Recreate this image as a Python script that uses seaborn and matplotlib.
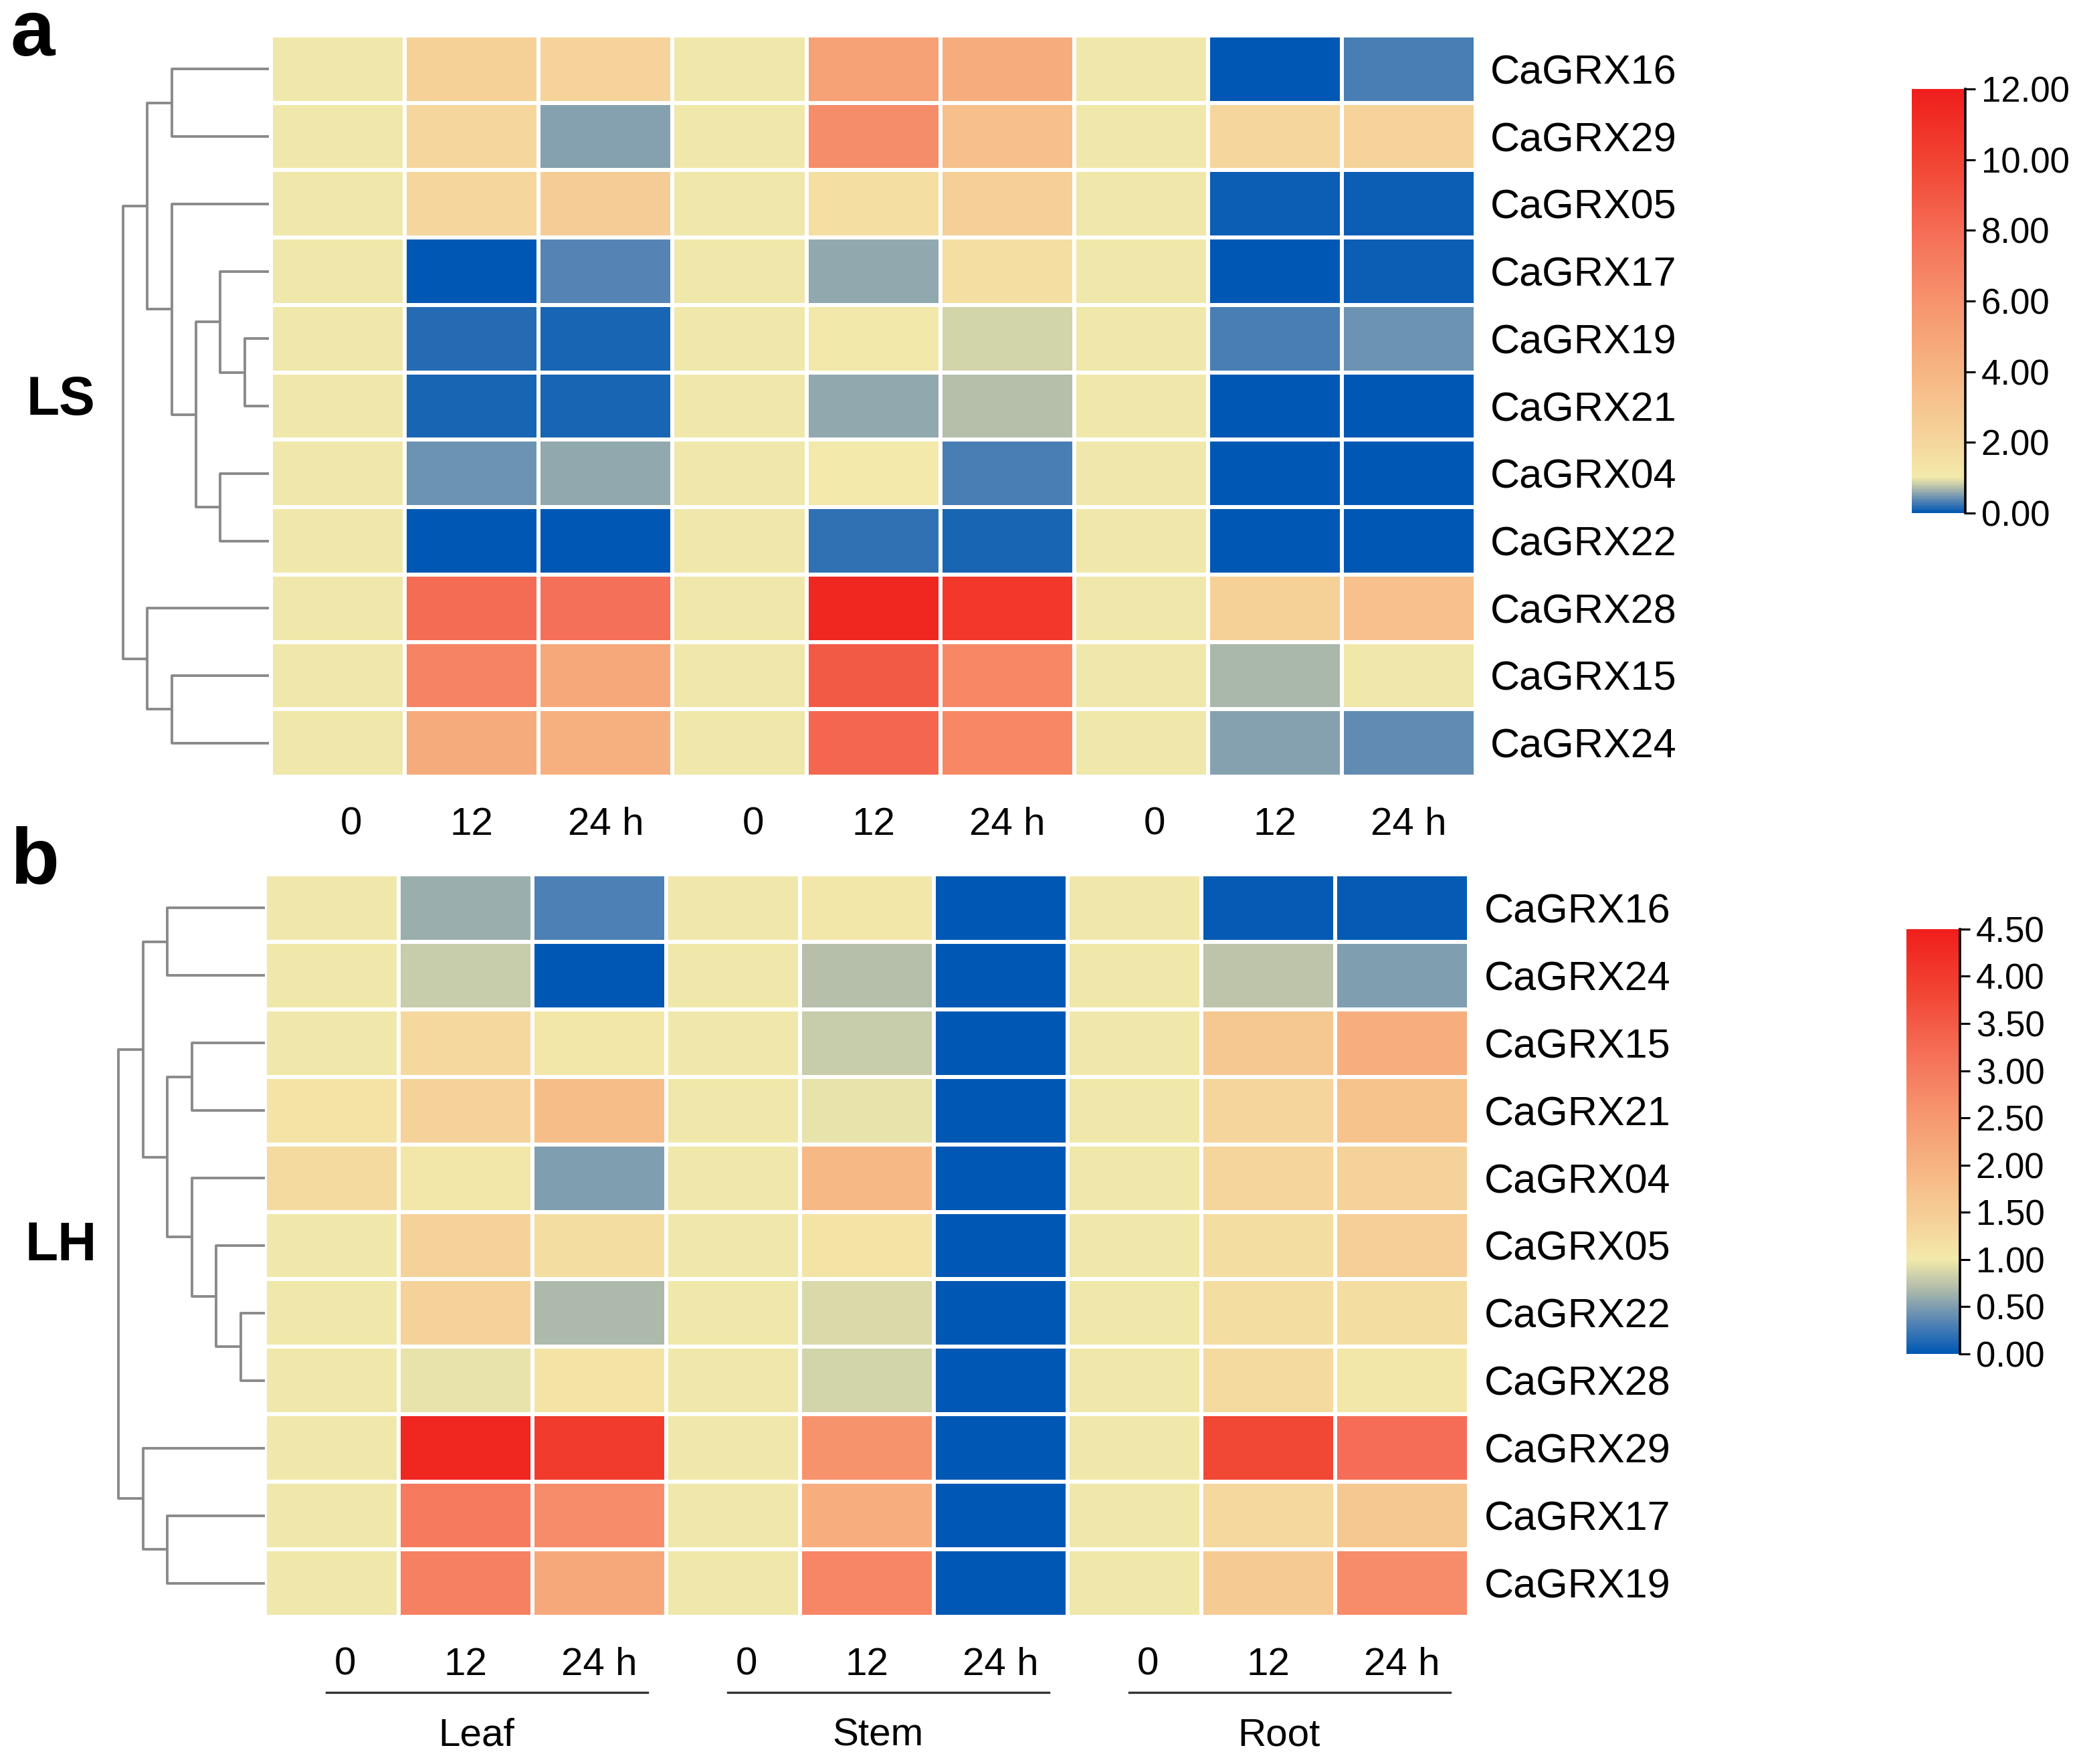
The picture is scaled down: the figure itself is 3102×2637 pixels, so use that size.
import numpy as np
import pandas as pd
import seaborn as sns
from matplotlib import pyplot as plt
from matplotlib.colors import LinearSegmentedColormap

# %% data

time_labels = ['0', '12', '24 h'] * 3
tissues = ['Leaf', 'Stem', 'Root']

genes_ls = ['CaGRX16', 'CaGRX29', 'CaGRX05', 'CaGRX17', 'CaGRX19', 'CaGRX21',
            'CaGRX04', 'CaGRX22', 'CaGRX28', 'CaGRX15', 'CaGRX24']
ls_vals = [
    [1, 2.3, 2.2, 1, 5.2, 4.5, 1, 0.00, 0.30],
    [1, 2.0, 0.55, 1, 6.3, 3.4, 1, 2.0, 2.2],
    [1, 2.0, 2.6, 1, 1.6, 2.4, 1, 0.08, 0.08],
    [1, 0.02, 0.35, 1, 0.60, 1.6, 1, 0.00, 0.05],
    [1, 0.15, 0.13, 1, 1.1, 0.85, 1, 0.30, 0.45],
    [1, 0.10, 0.10, 1, 0.60, 0.72, 1, 0.00, 0.00],
    [1, 0.45, 0.60, 1, 1.05, 0.30, 1, 0.00, 0.00],
    [1, 0.00, 0.00, 1, 0.20, 0.12, 1, 0.00, 0.00],
    [1, 8.0, 7.8, 1, 11.5, 10.6, 1, 2.3, 3.3],
    [1, 6.8, 4.8, 1, 8.9, 6.6, 1, 0.70, 1.0],
    [1, 4.6, 4.4, 1, 8.3, 6.6, 1, 0.55, 0.42],
]

genes_lh = ['CaGRX16', 'CaGRX24', 'CaGRX15', 'CaGRX21', 'CaGRX04', 'CaGRX05',
            'CaGRX22', 'CaGRX28', 'CaGRX29', 'CaGRX17', 'CaGRX19']
lh_vals = [
    [1, 0.60, 0.30, 1, 1.05, 0, 1, 0.02, 0.02],
    [1, 0.80, 0.00, 1, 0.72, 0, 1, 0.75, 0.50],
    [1, 1.30, 1.05, 1, 0.80, 0, 1, 1.60, 2.10],
    [1.1, 1.40, 1.80, 1, 0.95, 0, 1, 1.35, 1.70],
    [1.25, 1.05, 0.50, 1, 1.90, 0, 1, 1.35, 1.40],
    [1, 1.40, 1.20, 1, 1.10, 0, 1, 1.20, 1.45],
    [1, 1.40, 0.68, 1, 0.88, 0, 1, 1.20, 1.20],
    [1, 0.95, 1.10, 1, 0.85, 0, 1, 1.25, 1.05],
    [1, 4.35, 4.00, 1, 2.60, 0, 1, 3.80, 3.20],
    [1, 3.00, 2.70, 1, 2.10, 0, 1, 1.30, 1.60],
    [1, 2.90, 2.20, 1, 2.80, 0, 1, 1.55, 2.70],
]

# dendrogram merges (left, right, level); leaves are rows in display order
tree_ls = [(4, 5, 1), (3, 11, 2), (6, 7, 2), (12, 13, 3), (2, 14, 4),
           (0, 1, 4), (16, 15, 5), (9, 10, 4), (8, 18, 5), (17, 19, 6)]
tree_lh = [(6, 7, 1), (5, 11, 2), (4, 12, 3), (2, 3, 3), (14, 13, 4),
           (0, 1, 4), (16, 15, 5), (9, 10, 4), (8, 18, 5), (17, 19, 6)]

vmax_ls, vmax_lh = 12.0, 4.5
cb_ticks_ls = np.arange(0, 12.01, 2.0)
cb_ticks_lh = np.arange(0, 4.51, 0.5)

# %% helpers

def make_cmap(vmax):
    p = 1.0 / vmax
    lower = [(0.0, '#0058B4'), (0.35, '#5A87B4'), (0.7, '#B4BEAA'), (1.0, '#F2EAAA')]
    upper = [(0.1, '#F5D49B'), (0.28, '#F6B482'), (0.45, '#F6946E'),
             (0.62, '#F57058'), (0.82, '#F14332'), (1.0, '#F01E1C')]
    nodes = [(t * p, c) for t, c in lower] + [(p + t * (1 - p), c) for t, c in upper]
    return LinearSegmentedColormap.from_list('grx', nodes)


def draw_dendro(ax, merges, n):
    pos = {i: i + 0.5 for i in range(n)}
    hgt = {i: 0.0 for i in range(n)}
    for k, (a, b, h) in enumerate(merges):
        ax.plot([hgt[a], h, h, hgt[b]], [pos[a], pos[a], pos[b], pos[b]],
                color='#8a8a8a', lw=1.4, clip_on=False, solid_capstyle='butt')
        pos[n + k] = (pos[a] + pos[b]) / 2
        hgt[n + k] = h
    ax.set_xlim(6, 0)
    ax.set_ylim(n, 0)
    ax.axis('off')


def panel(fig, hm_rect, dn_rect, cb_rect, vals, genes, tree, vmax, ticks):
    ax = fig.add_axes(hm_rect)
    cax = fig.add_axes(cb_rect)
    dax = fig.add_axes(dn_rect)
    df = pd.DataFrame(vals, index=genes)
    sns.heatmap(df, ax=ax, cmap=make_cmap(vmax), vmin=0, vmax=vmax,
                linewidths=1.6, linecolor='white', cbar_ax=cax,
                xticklabels=time_labels, yticklabels=genes)
    # the "0" labels sit a little right of the cell centre in the original
    ax.set_xticks([g * 3 + off for g in range(3) for off in (0.6, 1.5, 2.5)],
                  time_labels)
    ax.yaxis.tick_right()
    ax.tick_params(axis='y', rotation=0, length=0, pad=8, labelsize=22)
    ax.tick_params(axis='x', rotation=0, length=0, pad=16, labelsize=21)
    ax.set_xlabel('')
    ax.set_ylabel('')
    cbar = ax.collections[0].colorbar
    cbar.outline.set_visible(False)
    cbar.set_ticks(ticks)
    cbar.ax.set_yticklabels([f'{t:.2f}' for t in ticks])
    cbar.ax.tick_params(length=5.5, width=1.1, pad=3, labelsize=19)
    cbar.ax.axvline(1, color='k', lw=1.3, clip_on=False)
    draw_dendro(dax, tree, len(genes))
    return ax

# %% figure

plt.rcParams['font.family'] = ['Liberation Sans', 'DejaVu Sans']
fig = plt.figure(figsize=(15.51, 13.185), dpi=200)

ax_a = panel(fig, [0.1306, 0.5597, 0.5806, 0.4202], [0.0593, 0.5597, 0.0703, 0.4202],
             [0.9213, 0.7091, 0.0258, 0.2405], ls_vals, genes_ls, tree_ls, vmax_ls, cb_ticks_ls)
ax_b = panel(fig, [0.1277, 0.0834, 0.5803, 0.4210], [0.0571, 0.0834, 0.0706, 0.4210],
             [0.9188, 0.2325, 0.0258, 0.2408], lh_vals, genes_lh, tree_lh, vmax_lh, cb_ticks_lh)

# tissue group underlines and names
for g, name in enumerate(tissues):
    ax_b.plot([g * 3 + 0.46, g * 3 + 2.86], [-0.102, -0.102], color='#333333', lw=1.2,
              transform=ax_b.get_xaxis_transform(), clip_on=False)
    ax_b.text(g * 3 + 1.58, -0.16, name, transform=ax_b.get_xaxis_transform(),
              ha='center', va='center', fontsize=21)

fig.text(0.005, 0.9685, 'a', fontsize=43, fontweight='bold', va='baseline')
fig.text(0.005, 0.499, 'b', fontsize=43, fontweight='bold', va='baseline')
fig.text(0.0293, 0.7728, 'LS', fontsize=29, fontweight='bold', ha='center', va='center')
fig.text(0.0293, 0.2935, 'LH', fontsize=29, fontweight='bold', ha='center', va='center')

fig.savefig('out.png', dpi=200)
